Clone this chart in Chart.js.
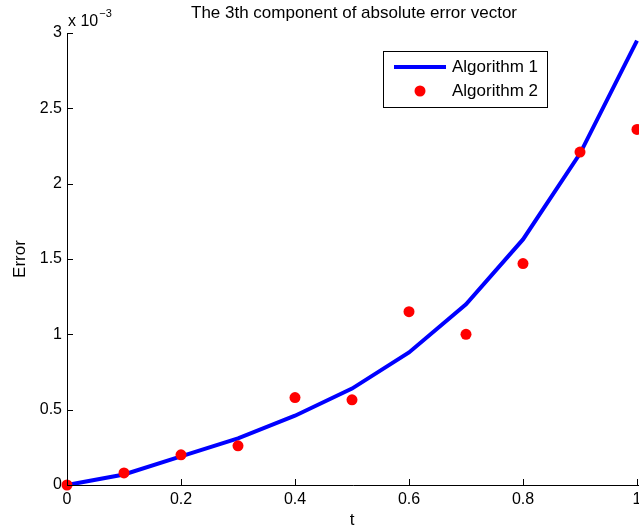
<!DOCTYPE html>
<html>
<head>
<meta charset="utf-8">
<script src="https://cdn.jsdelivr.net/npm/chart.js@4"></script>
<style>
  html, body { margin: 0; padding: 0; background: #fff; overflow: hidden; }
  #wrap { width: 639px; height: 531px; }
</style>
</head>
<body>
<div id="wrap"><canvas id="errChart" width="639" height="531"></canvas></div>
<script>
// values of the 3th error component, in units of 1e-3
var tValues = [0, 0.1, 0.2, 0.3, 0.4, 0.5, 0.6, 0.7, 0.8, 0.9, 1.0];
var alg1 = [0, 0.07, 0.19, 0.31, 0.46, 0.64, 0.88, 1.20, 1.63, 2.20, 2.95];
var alg2 = [0, 0.08, 0.20, 0.26, 0.58, 0.565, 1.15, 1.00, 1.47, 2.21, 2.36];
var seriesNames = ["Algorithm 1", "Algorithm 2"];
var yTicks = [0, 0.5, 1, 1.5, 2, 2.5, 3];
var xTicks = [0, 0.2, 0.4, 0.6, 0.8, 1];

var FONT = "'Liberation Sans', Arial, Helvetica, sans-serif";

function pairs(ys) {
	return tValues.map(function (t, i) { return { x: t, y: ys[i] }; });
}

function shortNum(v) {
	return String(+Number(v).toFixed(2));
}

// matlab like axes: left + bottom line, ticks pointing in, title, exponent, legend
var matlabAxes = {
	id: 'matlabAxes',
	afterLayout: function (chart) {
		// plot box runs to the right edge, the "1" label gets cut like in matlab export
		var a = chart.chartArea, xs = chart.scales.x;
		var right = chart.width - 2;
		try {
			a.right = right;
			a.width = right - a.left;
			xs.right = right;
			xs.width = right - xs.left;
			xs.configure();
		} catch (e) {}
	},
	afterDraw: function (chart) {
		var ctx = chart.ctx;
		var xs = chart.scales.x, ys = chart.scales.y;
		var a = chart.chartArea;
		var tick = 6;
		ctx.save();
		ctx.strokeStyle = '#000';
		ctx.lineWidth = 1;
		ctx.beginPath();
		ctx.moveTo(a.left + 0.5, a.top);
		ctx.lineTo(a.left + 0.5, a.bottom + 0.5);
		ctx.lineTo(chart.width, a.bottom + 0.5);
		yTicks.forEach(function (v) {
			var py = Math.round(ys.getPixelForValue(v)) + 0.5;
			ctx.moveTo(a.left, py);
			ctx.lineTo(a.left + tick, py);
		});
		xTicks.forEach(function (v) {
			var px = Math.round(xs.getPixelForValue(v)) + 0.5;
			ctx.moveTo(px, a.bottom);
			ctx.lineTo(px, a.bottom - tick);
		});
		ctx.stroke();

		// title
		ctx.fillStyle = '#000';
		ctx.font = '17px ' + FONT;
		ctx.textAlign = 'center';
		ctx.textBaseline = 'middle';
		ctx.fillText('The 3th component of absolute error vector', 354, 13);

		// exponent label
		ctx.textAlign = 'left';
		ctx.textBaseline = 'alphabetic';
		ctx.font = '16px ' + FONT;
		ctx.fillText('x 10', 68, 26);
		var w = ctx.measureText('x 10').width;
		ctx.font = '11px ' + FONT;
		ctx.fillText('\u22123', 68 + w + 1, 17);

		// legend
		var lx = 383, ly = 51, lw = 164, lh = 56;
		ctx.fillStyle = '#fff';
		ctx.fillRect(lx, ly, lw, lh);
		ctx.strokeStyle = '#000';
		ctx.lineWidth = 1;
		ctx.strokeRect(lx + 0.5, ly + 0.5, lw, lh);
		var ds = chart.data.datasets;
		ctx.strokeStyle = ds[0].borderColor;
		ctx.lineWidth = ds[0].borderWidth;
		ctx.beginPath();
		ctx.moveTo(394, 67);
		ctx.lineTo(446, 67);
		ctx.stroke();
		ctx.fillStyle = ds[1].backgroundColor;
		ctx.beginPath();
		ctx.arc(420, 91, ds[1].pointRadius, 0, Math.PI * 2);
		ctx.fill();
		ctx.fillStyle = '#000';
		ctx.font = '17px ' + FONT;
		ctx.textBaseline = 'middle';
		ctx.fillText(ds[0].label, 452, 67);
		ctx.fillText(ds[1].label, 452, 91);
		ctx.restore();
	}
};

new Chart(document.getElementById('errChart'), {
	type: 'scatter',
	data: {
		datasets: [{
			label: seriesNames[0],
			data: pairs(alg1),
			showLine: true,
			borderColor: '#0000ff',
			backgroundColor: '#0000ff',
			borderWidth: 4,
			pointRadius: 0,
			tension: 0,
			clip: false,
			order: 2
		}, {
			label: seriesNames[1],
			data: pairs(alg2),
			showLine: false,
			backgroundColor: '#ff0000',
			borderColor: '#ff0000',
			borderWidth: 0,
			pointRadius: 5.5,
			clip: false,
			order: 1
		}]
	},
	options: {
		responsive: false,
		animation: false,
		devicePixelRatio: 1,
		layout: { padding: { top: 33, right: 2, left: 0, bottom: 0 } },
		plugins: {
			legend: { display: false },
			tooltip: { enabled: false },
			title: { display: false }
		},
		scales: {
			x: {
				type: 'linear',
				min: 0,
				max: 1,
				grid: { display: false, drawTicks: false },
				border: { display: false },
				ticks: {
					stepSize: 0.2,
					padding: 5,
					color: '#000',
					maxRotation: 0,
					font: { family: FONT, size: 16 },
					callback: shortNum
				},
				title: {
					display: true,
					text: 't',
					color: '#000',
					padding: { top: 0, bottom: 0 },
					font: { family: FONT, size: 17 }
				},
				afterFit: function (s) {
					s.height = 46;
				}
			},
			y: {
				min: 0,
				max: 3,
				grid: { display: false, drawTicks: false },
				border: { display: false },
				ticks: {
					stepSize: 0.5,
					padding: 5,
					color: '#000',
					font: { family: FONT, size: 16 },
					callback: shortNum
				},
				title: {
					display: true,
					text: 'Error',
					color: '#000',
					padding: { top: 10, bottom: 0 },
					font: { family: FONT, size: 17 }
				},
				afterFit: function (s) {
					s.width = 67;
				}
			}
		}
	},
	plugins: [matlabAxes]
});
</script>
</body>
</html>
